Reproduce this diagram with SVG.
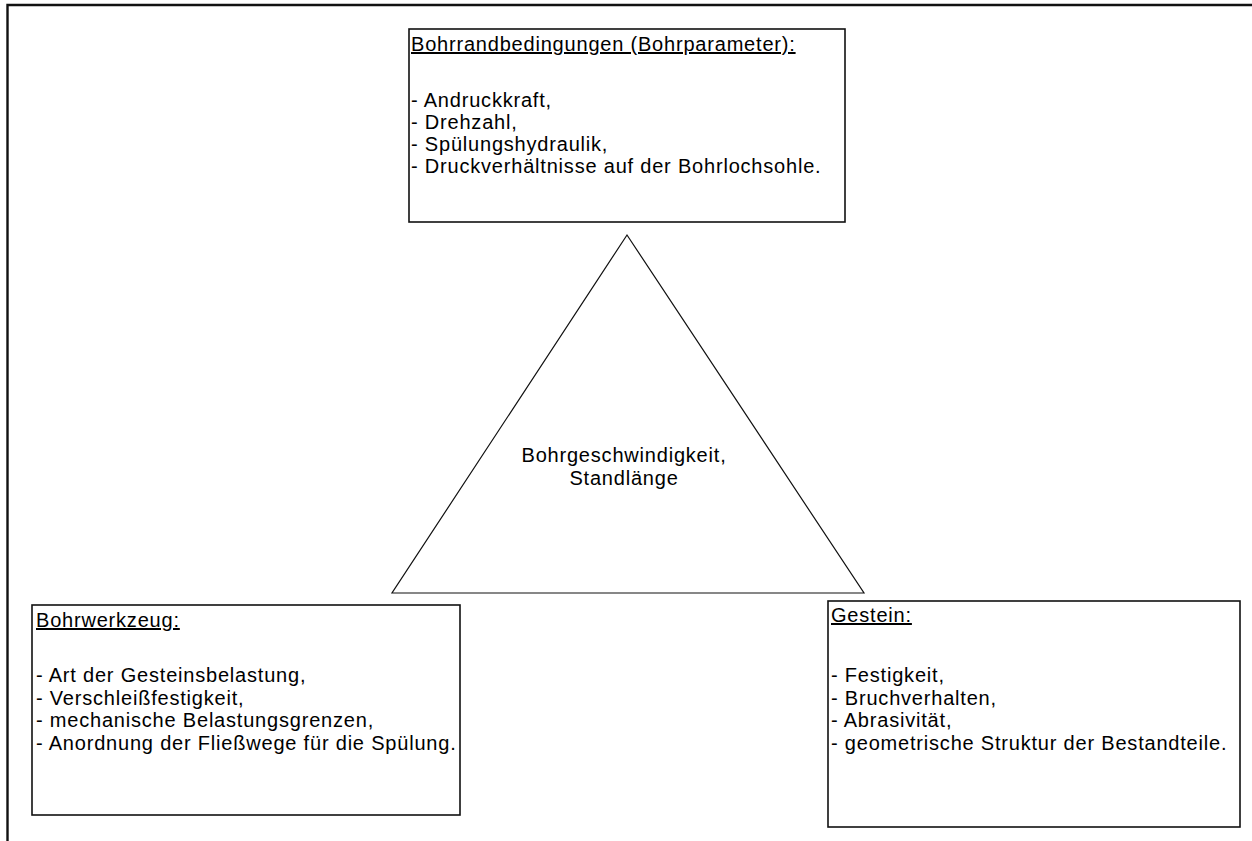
<svg xmlns="http://www.w3.org/2000/svg" width="1252" height="841" viewBox="0 0 1252 841">
<style>
text{font-family:"Liberation Sans",Arial,sans-serif;font-size:20px;letter-spacing:0.8px;fill:#000}
.box{fill:#fff;stroke:#111;stroke-width:1.6}
.t{text-decoration:underline}
.c{text-anchor:middle}
</style>
<rect width="1252" height="841" fill="#fff"/>
<g id="frame">
<polyline points="7.5,841 7.5,5 1252,5" fill="none" stroke="#111" stroke-width="2.4"/>
</g>
<g id="connectors"></g>
<g id="node-top">
<rect class="box" x="409" y="29" width="436" height="193"/>
<text class="t" x="411" y="51">Bohrrandbedingungen (Bohrparameter):</text>
<text x="411" y="107">- Andruckkraft,</text>
<text x="411" y="129">- Drehzahl,</text>
<text x="411" y="151">- Spülungshydraulik,</text>
<text x="411" y="173">- Druckverhältnisse auf der Bohrlochsohle.</text>
</g>
<g id="node-triangle">
<polygon points="627,235 392,593 864,593" fill="#fff" stroke="#111" stroke-width="1.2"/>
<text class="c" x="624" y="462">Bohrgeschwindigkeit,</text>
<text class="c" x="624" y="485">Standlänge</text>
</g>
<g id="node-left">
<rect class="box" x="32" y="605" width="428" height="210"/>
<text class="t" x="36" y="627">Bohrwerkzeug:</text>
<text x="36" y="682">- Art der Gesteinsbelastung,</text>
<text x="36" y="705">- Verschleißfestigkeit,</text>
<text x="36" y="727">- mechanische Belastungsgrenzen,</text>
<text x="36" y="750">- Anordnung der Fließwege für die Spülung.</text>
</g>
<g id="node-right">
<rect class="box" x="828" y="601" width="412" height="226"/>
<text class="t" x="831" y="622">Gestein:</text>
<text x="831" y="682">- Festigkeit,</text>
<text x="831" y="705">- Bruchverhalten,</text>
<text x="831" y="727">- Abrasivität,</text>
<text x="831" y="750">- geometrische Struktur der Bestandteile.</text>
</g>
</svg>
